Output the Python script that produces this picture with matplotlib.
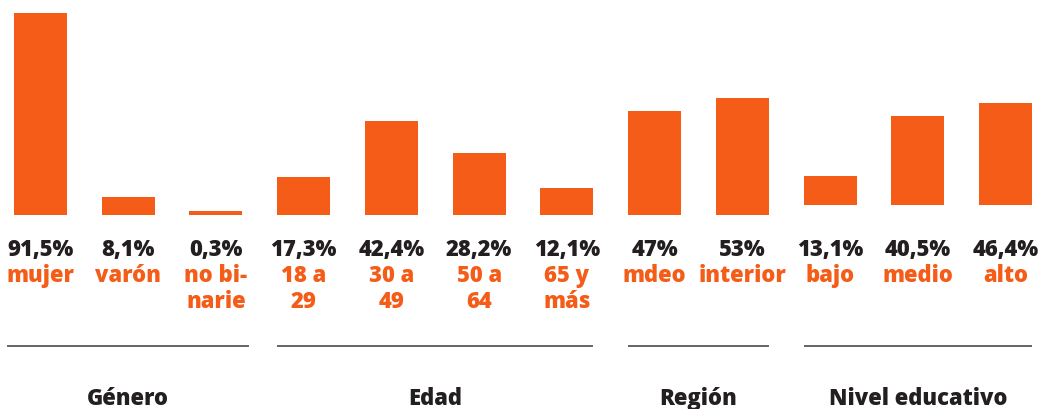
import matplotlib
matplotlib.use("Agg")
import matplotlib.pyplot as plt
import matplotlib.transforms as mtransforms
import numpy as np

# ---- data ----
groups = ["Género", "Edad", "Región", "Nivel educativo"]
group_sizes = [3, 4, 2, 3]
categories = ["mujer", "varón", "no bi-\nnarie",
              "18 a\n29", "30 a\n49", "50 a\n64", "65 y\nmás",
              "mdeo", "interior",
              "bajo", "medio", "alto"]
values = [91.5, 8.1, 0.3,
          17.3, 42.4, 28.2, 12.1,
          47, 53,
          13.1, 40.5, 46.4]

# ---- style ----
ORANGE = "#F45C18"
DARK = "#231F20"
LINE = "#3a3a3a"
FONT = ["Open Sans", "DejaVu Sans"]
WEIGHT = 800
W, H = 1042, 409
PX_PER_UNIT = 2.208          # vertical px per percentage point
BASE_PX = 215                # baseline (px from top)
X0_PX, STEP_PX = 40.5, 87.73
BAR_W = 53 / STEP_PX
MIN_BAR = 1.8                # minimum visible bar height
group_bottom = [0, 0, 0, 4.53]
group_pad = [0.08, 0, 0, 0]

fig = plt.figure(figsize=(W / 100, H / 100), dpi=100)
ax = fig.add_axes([0, 0, 1, 1])
ax.set_xlim(-X0_PX / STEP_PX, (W - X0_PX) / STEP_PX)
ax.set_ylim(-(H - BASE_PX) / PX_PER_UNIT, BASE_PX / PX_PER_UNIT)
ax.axis("off")

trans = mtransforms.blended_transform_factory(ax.transData, ax.transAxes)
def yf(px):
    return 1 - px / H

def fmt(v):
    s = f"{v:.1f}".replace(".", ",")
    if s.endswith(",0"):
        s = s[:-2]
    return s + "%"

x = np.arange(len(values))
bottoms = []
for g, n in enumerate(group_sizes):
    bottoms += [group_bottom[g]] * n
heights = [max(v, MIN_BAR) for v in values]
ax.bar(x, heights, width=BAR_W, bottom=bottoms, color=ORANGE, linewidth=0)

fs = 15.8
for i, (v, c) in enumerate(zip(values, categories)):
    ax.text(i, yf(256), fmt(v), transform=trans, ha="center", va="baseline",
            fontsize=fs, fontweight=WEIGHT, color=DARK, family=FONT)
    for k, line in enumerate(c.split("\n")):
        ax.text(i, yf(281.5 + 26.5 * k), line, transform=trans, ha="center",
                va="baseline", fontsize=fs, fontweight=WEIGHT, color=ORANGE,
                family=FONT)

start = 0
for g, (name, n) in enumerate(zip(groups, group_sizes)):
    left = start - BAR_W / 2 - group_pad[g]
    right = start + n - 1 + BAR_W / 2 + group_pad[g]
    ax.plot([left, right], [yf(346), yf(346)], transform=trans, color=LINE,
            linewidth=1.1, solid_capstyle="butt")
    ax.text((left + right) / 2, yf(405), name, transform=trans, ha="center",
            va="baseline", fontsize=fs, fontweight=WEIGHT, color=DARK,
            family=FONT)
    start += n

fig.savefig("out.png", dpi=100)
